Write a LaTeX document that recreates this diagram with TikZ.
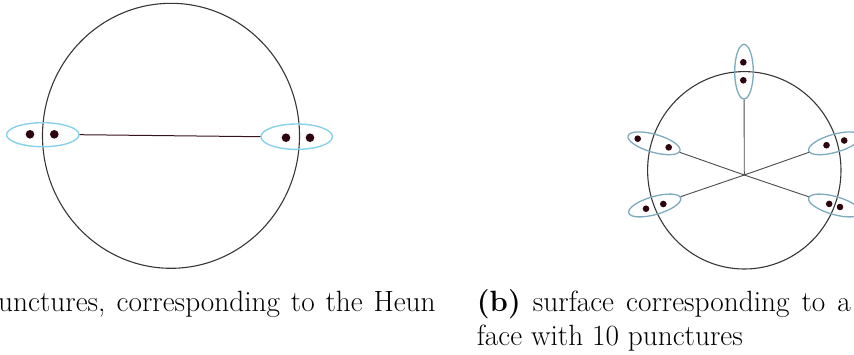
\documentclass[tikz,border=0pt]{standalone}
\usetikzlibrary{shapes.geometric}
\definecolor{dotc}{RGB}{45,5,15}
\definecolor{cyanring}{RGB}{135,210,235}
\definecolor{bluering}{RGB}{125,170,190}
\definecolor{rimc}{RGB}{55,55,55}
\definecolor{linkc}{RGB}{55,20,30}
\definecolor{spokec}{RGB}{75,75,75}
\tikzset{
  rim/.style={draw=rimc, line width=1.1pt},
  ringA/.style={ellipse, draw=cyanring, line width=1.4pt, inner sep=0pt},
  ringB/.style={ellipse, draw=bluering, line width=1.3pt, inner sep=0pt, minimum width=54pt, minimum height=18pt},
  dotA/.style={circle, fill=dotc, inner sep=0pt, minimum size=8.6pt},
  dotB/.style={circle, fill=dotc, inner sep=0pt, minimum size=6.6pt},
  link/.style={draw=linkc, line width=1pt},
  spoke/.style={draw=spokec, line width=0.9pt},
  captext/.style={inner sep=0pt, font=\fontsize{29.3}{35}\selectfont}
}
\begin{document}
\begin{tikzpicture}[x=1pt,y=-1pt]
\useasboundingbox (0,0) rectangle (854,354);
% ---------- left figure ----------
\draw[rim] (171,135.8) ellipse [x radius=128.5, y radius=132.5];
\node[ringA, minimum width=72.4pt, minimum height=24pt] (la) at (42.8,134.7) {};
\node[ringA, minimum width=71.4pt, minimum height=25.4pt] (ra) at (296.7,136.7) {};
\node[dotA] (la1) at (30,134.3) {};
\node[dotA] (la2) at (54.3,134.3) {};
\node[dotA] (ra1) at (286,137.7) {};
\node[dotA] (ra2) at (310,137.7) {};
\draw[link] (la.east) -- (ra.west);
% ---------- right figure ----------
\draw[rim] (744.3,170.3) ellipse [x radius=96.7, y radius=98.7];
\coordinate (hub) at (744.3,175);
\node[ringB, minimum width=18.6pt, minimum height=54.6pt] (top) at (744,71.7) {};
\node[ringB, rotate=-16] (ul) at (654,143.3) {};
\node[ringB, rotate=16] (ll) at (654.7,205.5) {};
\node[ringB, rotate=16] (ur) at (834.6,143.3) {};
\node[ringB, rotate=-16] (lr) at (834.6,205.5) {};
\node[dotB] (t1) at (743.3,62.3) {};
\node[dotB] (t2) at (743.3,80.3) {};
\node[dotB] (ul1) at (637.7,138.7) {};
\node[dotB] (ul2) at (668.7,147.3) {};
\node[dotB] (ll1) at (646,208.7) {};
\node[dotB] (ll2) at (663.3,204) {};
\node[dotB] (ur1) at (826.5,145.2) {};
\node[dotB] (ur2) at (844.2,140.5) {};
\node[dotB] (lr1) at (829.2,203.9) {};
\node[dotB] (lr2) at (840,207) {};
\draw[spoke] (hub) -- (top);
\draw[spoke] (hub) -- (ul);
\draw[spoke] (hub) -- (ll);
\draw[spoke] (hub) -- (ur);
\draw[spoke] (hub) -- (lr);
% ---------- captions ----------
\node[captext, anchor=base west] (capa) at (-2,311.5) {\makebox[437.5pt][s]{unctures, corresponding to the Heun}};
\node[captext, anchor=base west] (capb1) at (476.7,311.5) {\makebox[374pt][s]{\textbf{(b)} surface corresponding to a}};
\node[captext, anchor=base west] (capb2) at (476.7,345.5) {face with 10 punctures};
\end{tikzpicture}
\end{document}
